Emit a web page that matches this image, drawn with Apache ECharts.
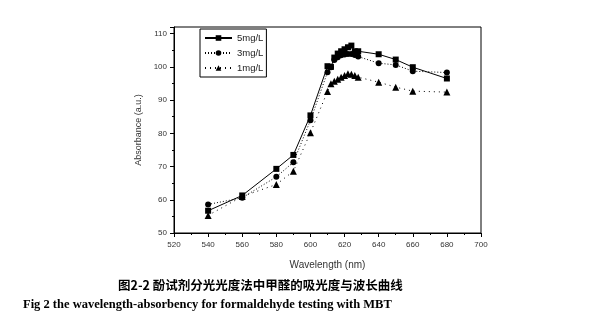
<!DOCTYPE html>
<html>
<head>
<meta charset="utf-8">
<script src="https://cdn.jsdelivr.net/npm/echarts@6/dist/echarts.min.js"></script>
<style>
  html, body { margin: 0; padding: 0; background: #fff; }
  #chart { width: 602px; height: 332px; }
</style>
</head>
<body>
<div id="chart"></div>
<script>
// Wavelength scan (nm) and absorbance for three formaldehyde concentrations
const wavelengths = [540, 560, 580, 590, 600, 610, 612, 614, 616, 618, 620, 622, 624, 626, 628, 640, 650, 660, 680];
const abs5mg = [56.7, 61.3, 69.3, 73.5, 85.4, 100.2, 100.0, 102.8, 104.0, 104.7, 105.3, 105.9, 106.4, 104.7, 104.7, 103.8, 102.2, 99.9, 96.5];
const abs3mg = [58.6, 60.6, 66.9, 71.3, 83.9, 98.4, 99.9, 102.1, 102.9, 103.5, 103.7, 103.9, 103.9, 103.6, 103.1, 101.1, 100.6, 98.7, 98.3];
const abs1mg = [55.3, 61.0, 64.6, 68.6, 80.2, 92.6, 94.9, 95.7, 96.3, 96.9, 97.4, 97.9, 97.8, 97.4, 96.9, 95.4, 93.9, 92.7, 92.4];
const seriesNames = ['5mg/L', '3mg/L', '1mg/L'];

const xAxisName = 'Wavelength (nm)';
const yAxisName = 'Absorbance (a.u.)';
const captionCN = '图2-2 酚试剂分光光度法中甲醛的吸光度与波长曲线';
const captionEN = 'Fig 2 the wavelength-absorbency for formaldehyde testing with MBT';

const pairs = vals => wavelengths.map((w, i) => [w, vals[i]]);

const chart = echarts.init(document.getElementById('chart'), null, { renderer: 'canvas' });

const axisFont = { fontFamily: 'Arial, "Liberation Sans", sans-serif', fontSize: 8, color: '#333' };

function lineSeries(name, vals, symbol, size, dash) {
  return {
    name: name,
    type: 'line',
    data: pairs(vals),
    symbol: symbol,
    symbolSize: size,
    showAllSymbol: true,
    itemStyle: { color: '#000' },
    lineStyle: { color: '#000', width: 1, type: dash },
    animation: false
  };
}

chart.setOption({
  backgroundColor: '#fff',
  animation: false,
  grid: {
    left: 174, right: 121, top: 27, bottom: 99,
    show: true, borderColor: '#000', borderWidth: 1, backgroundColor: 'transparent'
  },
  legend: {
    left: 200, top: 29,
    orient: 'vertical',
    itemWidth: 27, itemHeight: 7, itemGap: 5,
    padding: [4, 3, 4, 4],
    borderColor: '#000', borderWidth: 1,
    textStyle: { fontFamily: 'Arial, "Liberation Sans", sans-serif', fontSize: 9.5, color: '#222', padding: [0, 0, 0, 0] },
    data: seriesNames
  },
  xAxis: {
    type: 'value', min: 520, max: 700, interval: 20,
    name: xAxisName, nameLocation: 'middle', nameGap: 27,
    nameTextStyle: { fontFamily: 'Arial, "Liberation Sans", sans-serif', fontSize: 10, color: '#333' },
    axisLine: { lineStyle: { color: '#000', width: 1 } },
    axisTick: { show: true, length: 4, lineStyle: { color: '#000' } },
    minorTick: { show: true, splitNumber: 2, length: 2, lineStyle: { color: '#000' } },
    axisLabel: Object.assign({ margin: 8 }, axisFont),
    splitLine: { show: false }
  },
  yAxis: {
    type: 'value', min: 50, max: 112, interval: 10,
    name: yAxisName, nameLocation: 'middle', nameGap: 24,
    nameTextStyle: { fontFamily: 'Arial, "Liberation Sans", sans-serif', fontSize: 9, color: '#333' },
    axisLine: { show: true, lineStyle: { color: '#000', width: 1 } },
    axisTick: { show: true, length: 4, lineStyle: { color: '#000' } },
    minorTick: { show: true, splitNumber: 2, length: 2, lineStyle: { color: '#000' } },
    axisLabel: Object.assign({ margin: 7, showMaxLabel: false }, axisFont),
    splitLine: { show: false }
  },
  series: [
    lineSeries(seriesNames[0], abs5mg, 'rect', 6, 'solid'),
    lineSeries(seriesNames[1], abs3mg, 'circle', 6, [1, 2]),
    lineSeries(seriesNames[2], abs1mg, 'triangle', 7, [1, 4])
  ],
  graphic: [
    {
      type: 'text', left: 118, top: 279,
      style: { text: captionCN, font: 'bold 12.5px "Noto Sans CJK SC", sans-serif', fill: '#000' }
    },
    {
      type: 'text', left: 23, top: 298,
      style: { text: captionEN, font: 'bold 12.5px "Liberation Serif", "Times New Roman", serif', fill: '#000' }
    }
  ]
});
</script>
</body>
</html>
